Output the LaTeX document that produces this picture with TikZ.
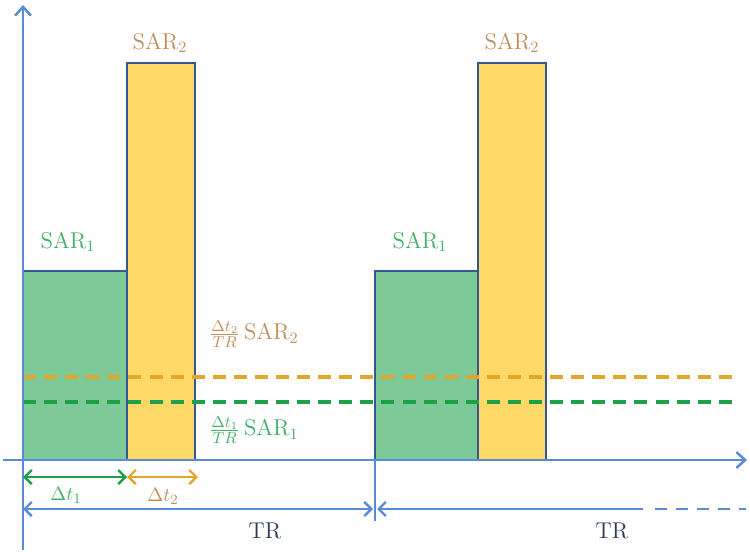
\documentclass[tikz,border=0pt]{standalone}
\usepackage{amsmath}
\usetikzlibrary{arrows.meta}
\definecolor{axisblue}{RGB}{88,140,212}
\definecolor{edgeblue}{RGB}{50,88,150}
\definecolor{greenfill}{RGB}{126,201,152}
\definecolor{yellowfill}{RGB}{255,217,104}
\definecolor{sargreen}{RGB}{62,176,104}
\definecolor{sarbrown}{RGB}{192,142,92}
\definecolor{dashorange}{RGB}{226,166,42}
\definecolor{dashgreen}{RGB}{28,160,72}
\definecolor{trblue}{RGB}{42,58,88}

\begin{document}
\begin{tikzpicture}[x=0.02cm, y=-0.02cm,
  axis/.style={draw=axisblue, line width=1.4pt},
  pulse/.style={draw=edgeblue, line width=0.9pt},
  barb/.style={Straight Barb[length=4pt, width=8pt, line width=1.2pt]},
  span/.style={line width=1.4pt, {Straight Barb[length=4pt, width=8pt]}-{Straight Barb[length=4pt, width=8pt]}},
  level/.style={line width=2.3pt, dash pattern=on 7.4pt off 4.6pt},
  lbl/.style={font=\fontsize{13}{15}\selectfont, inner sep=0pt},
  small/.style={font=\fontsize{11}{13}\selectfont, inner sep=0pt}]
\useasboundingbox (0,0) rectangle (750,557);

% pulses, first TR
\coordinate (o1) at (23,460);
\coordinate (o2) at (375,460);
\filldraw[pulse, fill=greenfill] (o1) rectangle (127,271);
\filldraw[pulse, fill=yellowfill] (127,460) rectangle (195,63);
% pulses, second TR
\filldraw[pulse, fill=greenfill] (o2) rectangle (478,271);
\filldraw[pulse, fill=yellowfill] (478,460) rectangle (546,63);

% time-averaged levels
\draw[level, draw=dashorange] (23,377) -- (735,377);
\draw[level, draw=dashgreen] (23,402) -- (735,402);

% axes
\coordinate (ybot) at (23,550);
\coordinate (ytop) at (23,5);
\coordinate (xl) at (3,460);
\coordinate (xr) at (747,460);
\draw[axis, -{Straight Barb[length=5pt, width=9pt]}] (ybot) -- (ytop);
\draw[axis, -{Straight Barb[length=5pt, width=9pt]}] (xl) -- (xr);
\draw[axis] (375,460) -- (375,521);

% durations
\coordinate (d0) at (23,477);
\coordinate (d1) at (127,477);
\coordinate (d2) at (198,477);
\draw[span, draw=dashgreen] (d0) -- (d1);
\draw[span, draw=dashorange] (d1) -- (d2);
\node[small, text=sargreen] (dt1) at (66,495) {$\Delta t_1$};
\node[small, text=sarbrown] (dt2) at (163,496) {$\Delta t_2$};

% repetition time
\coordinate (tr0) at (23,509);
\coordinate (tr1) at (373,509);
\coordinate (tr2) at (377,509);
\coordinate (tr3) at (643,509);
\coordinate (tr4) at (655,509);
\coordinate (tr5) at (746,509);
\draw[span, draw=axisblue] (tr0) -- (tr1);
\draw[axis, {Straight Barb[length=4pt, width=8pt]}-] (tr2) -- (tr3);
\draw[axis, dash pattern=on 6.8pt off 5.2pt] (tr4) -- (tr5);
\node[lbl, text=trblue] (tra) at (265,531) {TR};
\node[lbl, text=trblue] (trb) at (612,531) {TR};

% labels
\node[lbl, text=sarbrown] (s2a) at (160,43) {SAR$_2$};
\node[lbl, text=sarbrown] (s2b) at (512,43) {SAR$_2$};
\node[lbl, text=sargreen] (s1a) at (68,242) {SAR$_1$};
\node[lbl, text=sargreen] (s1b) at (420,242) {SAR$_1$};
\node[lbl, text=sarbrown] (f2) at (254,334) {$\frac{\Delta t_2}{TR}$\,SAR$_2$};
\node[lbl, text=sargreen] (f1) at (254,430) {$\frac{\Delta t_1}{TR}$\,SAR$_1$};
\end{tikzpicture}
\end{document}
